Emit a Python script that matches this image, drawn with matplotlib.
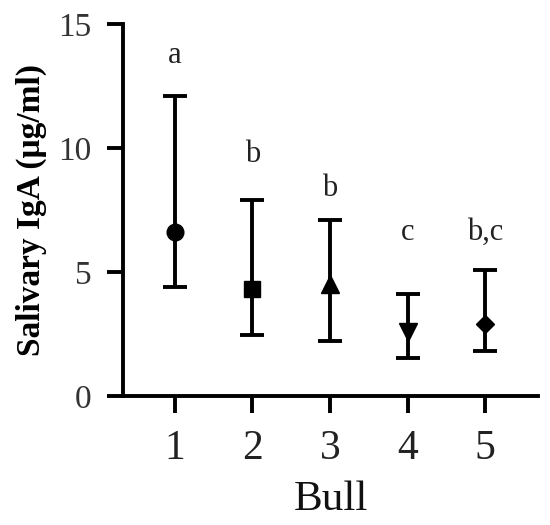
import numpy as np
import matplotlib.pyplot as plt

# Data
bulls = [1, 2, 3, 4, 5]
means = [6.6, 4.3, 4.5, 2.6, 2.9]
upper = [12.1, 7.9, 7.1, 4.1, 5.1]
lower = [4.4, 2.45, 2.2, 1.55, 1.8]
letters = ['a', 'b', 'b', 'c', 'b,c']
letter_y = [13.45, 9.45, 8.05, 6.3, 6.3]
markers = ['o', 's', '^', 'v', 'D']
marker_sizes = [12, 12, 13, 13, 9]

plt.rcParams['font.family'] = ['Liberation Serif', 'DejaVu Serif']

fig = plt.figure(figsize=(5.5, 5.25), dpi=100)
ax = fig.add_axes([0.2236, 0.2457, 0.7544, 0.7083])

for i in range(len(bulls)):
    err = [[means[i] - lower[i]], [upper[i] - means[i]]]
    ax.errorbar(bulls[i], means[i], yerr=err, fmt=markers[i], color='black',
                markersize=marker_sizes[i], elinewidth=2.8, capsize=8.5, capthick=2.8)
    ax.text(bulls[i], letter_y[i], letters[i], ha='center', va='baseline',
            fontsize=22, color='#222222')

ax.set_xlim(0.33, 5.68)
ax.set_ylim(0, 15)
ax.set_xticks(bulls)
ax.set_yticks([0, 5, 10, 15])

for s in ['top', 'right']:
    ax.spines[s].set_visible(False)
for s in ['left', 'bottom']:
    ax.spines[s].set_linewidth(2.8)

ax.tick_params(axis='y', length=11.5, width=2.8, pad=11, labelsize=24, labelcolor='#333333')
ax.tick_params(axis='x', length=12, width=2.8, pad=12, labelsize=30, labelcolor='#222222')

ax.set_xlabel('Bull', fontsize=31, labelpad=9, color='#111111')
ax.set_ylabel('Salivary IgA (μg/ml)', fontsize=24, fontweight='bold', labelpad=8)

fig.savefig('out.png')
